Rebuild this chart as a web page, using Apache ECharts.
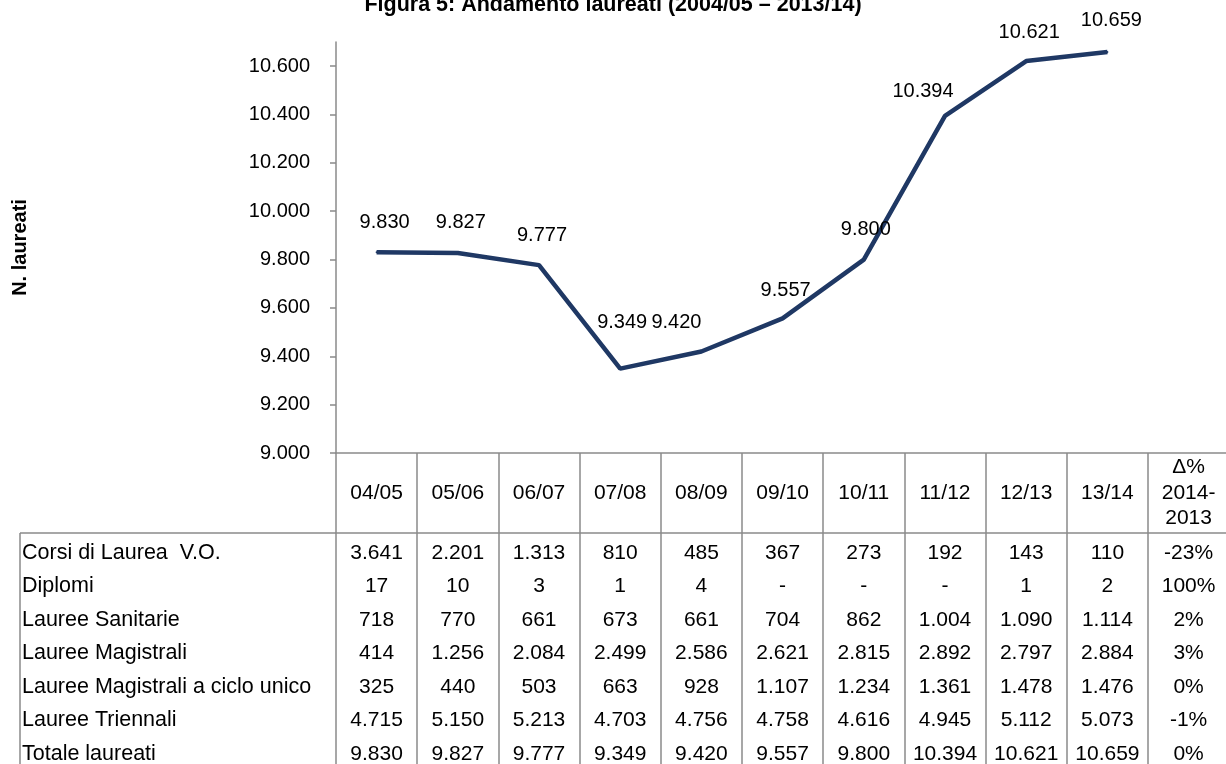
<!DOCTYPE html>
<html>
<head>
<meta charset="utf-8">
<title>Andamento laureati</title>
<script src="https://cdn.jsdelivr.net/npm/echarts@6/dist/echarts.min.js"></script>
<style>
html, body { margin: 0; padding: 0; background: #fff; }
#main { width: 1226px; height: 764px; }
</style>
</head>
<body>
<div id="main"></div>
<script>
// Figura 5: andamento laureati, grafico + tabella sotto
const anni = ['04/05', '05/06', '06/07', '07/08', '08/09', '09/10', '10/11', '11/12', '12/13', '13/14'];
const colDelta = 'Δ%\n2014-\n2013';
const totale = [9830, 9827, 9777, 9349, 9420, 9557, 9800, 10394, 10621, 10659];
const corsiVO = [3641, 2201, 1313, 810, 485, 367, 273, 192, 143, 110];
const diplomi = [17, 10, 3, 1, 4, 0, 0, 0, 1, 2];
const sanitarie = [718, 770, 661, 673, 661, 704, 862, 1004, 1090, 1114];
const magistrali = [414, 1256, 2084, 2499, 2586, 2621, 2815, 2892, 2797, 2884];
const cicloUnico = [325, 440, 503, 663, 928, 1107, 1234, 1361, 1478, 1476];
const triennali = [4715, 5150, 5213, 4703, 4756, 4758, 4616, 4945, 5112, 5073];
const deltaPct = [-23, 100, 2, 3, 0, -1, 0];
const rowNames = ['Corsi di Laurea  V.O.', 'Diplomi', 'Lauree Sanitarie', 'Lauree Magistrali',
  'Lauree Magistrali a ciclo unico', 'Lauree Triennali', 'Totale laureati'];
const yTicks = [9000, 9200, 9400, 9600, 9800, 10000, 10200, 10400, 10600];

// spostamenti delle etichette (stile, come in Excel)
const labelNudge = [[8, 0], [3, -1], [3, 0], [2, -16], [-25, 1], [3, 2], [2, 0], [-22, 6], [3, 1], [4, -1]];

// layout
const GRID_LEFT = 336;
const GRID_TOP = 42;
const AXIS_Y = 453;
const HEADER_H = 80;
const ROW_H = 33.5;
const TABLE_LEFT = 20;
const COL_W = 81.2;
const FONT = 'Liberation Sans';
const LINE_GREY = '#8a8a8a';

function fmt(n) {
  if (n === 0) return '-';
  return String(n).replace(/\B(?=(\d{3})+(?!\d))/g, '.');
}

const tableRows = [corsiVO, diplomi, sanitarie, magistrali, cicloUnico, triennali, totale];

const rowAxes = tableRows.map(function (row, i) {
  return {
    type: 'category',
    gridIndex: 0,
    position: 'bottom',
    offset: HEADER_H + ROW_H / 2 + 3 + ROW_H * i,
    data: row.map(fmt).concat([deltaPct[i] + '%']),
    axisLine: { show: false },
    axisTick: { show: false },
    axisLabel: { interval: 0, margin: 0, verticalAlign: 'middle', fontSize: 21, fontFamily: FONT, color: '#000' },
    name: rowNames[i],
    nameLocation: 'start',
    nameGap: GRID_LEFT - TABLE_LEFT - 2,
    nameTextStyle: { align: 'left', verticalAlign: 'middle', fontSize: 21.5, fontFamily: FONT, color: '#000' }
  };
});

const chart = echarts.init(document.getElementById('main'));
const option = {
  backgroundColor: '#fff',
  animation: false,
  title: {
    text: 'Figura 5: Andamento laureati (2004/05 – 2013/14)',
    left: 'center',
    top: -11,
    textStyle: { fontFamily: FONT, fontSize: 21.5, fontWeight: 'bold', color: '#000' }
  },
  grid: {
    left: GRID_LEFT,
    top: GRID_TOP,
    width: COL_W * 11,
    bottom: 764 - AXIS_Y,
    containLabel: false,
    outerBoundsMode: 'none'
  },
  xAxis: [
    {
      type: 'category',
      data: anni.concat([colDelta]),
      position: 'bottom',
      axisLine: { lineStyle: { color: LINE_GREY, width: 1.5 } },
      axisTick: { show: true, interval: 0, length: 330, lineStyle: { color: LINE_GREY, width: 1.5 } },
      axisLabel: { interval: 0, margin: HEADER_H / 2, verticalAlign: 'middle', lineHeight: 25.5, fontSize: 21, fontFamily: FONT, color: '#000' }
    },
    {
      // riga di separazione sotto l'intestazione
      type: 'category',
      data: anni.concat([colDelta]),
      position: 'bottom',
      offset: HEADER_H,
      axisLine: { lineStyle: { color: LINE_GREY, width: 1.5 } },
      axisTick: { show: false },
      axisLabel: { show: false }
    }
  ].concat(rowAxes),
  yAxis: {
    type: 'value',
    min: 9000,
    max: 10700,
    interval: 200,
    axisLine: { show: true, lineStyle: { color: LINE_GREY, width: 1.5 } },
    axisTick: { show: true, length: 6, customValues: yTicks, lineStyle: { color: LINE_GREY, width: 1.5 } },
    axisLabel: { customValues: yTicks, margin: 26, fontSize: 20, fontFamily: FONT, color: '#000', formatter: fmt },
    splitLine: { show: false },
    name: 'N. laureati',
    nameLocation: 'middle',
    nameRotate: 90,
    nameGap: GRID_LEFT - TABLE_LEFT - 10,
    nameTextStyle: { fontFamily: FONT, fontSize: 20, fontWeight: 'bold', color: '#000' }
  },
  graphic: [
    {
      type: 'line',
      shape: { x1: TABLE_LEFT, y1: AXIS_Y + HEADER_H, x2: GRID_LEFT, y2: AXIS_Y + HEADER_H },
      style: { stroke: LINE_GREY, lineWidth: 1.5 }
    },
    {
      type: 'line',
      shape: { x1: TABLE_LEFT, y1: AXIS_Y + HEADER_H, x2: TABLE_LEFT, y2: 764 },
      style: { stroke: LINE_GREY, lineWidth: 1.5 }
    }
  ],
  series: [
    {
      name: 'Totale laureati',
      type: 'line',
      xAxisIndex: 0,
      symbol: 'circle',
      symbolSize: 2,
      itemStyle: { color: '#1F3864' },
      lineStyle: { color: '#1F3864', width: 4.5 },
      label: {
        show: true,
        position: 'top',
        distance: 19,
        fontSize: 20,
        fontFamily: FONT,
        color: '#000',
        formatter: function (p) { return fmt(p.value); }
      },
      data: totale.map(function (v, i) {
        return { value: v, label: { offset: labelNudge[i] } };
      })
    }
  ]
};
chart.setOption(option);
</script>
</body>
</html>
